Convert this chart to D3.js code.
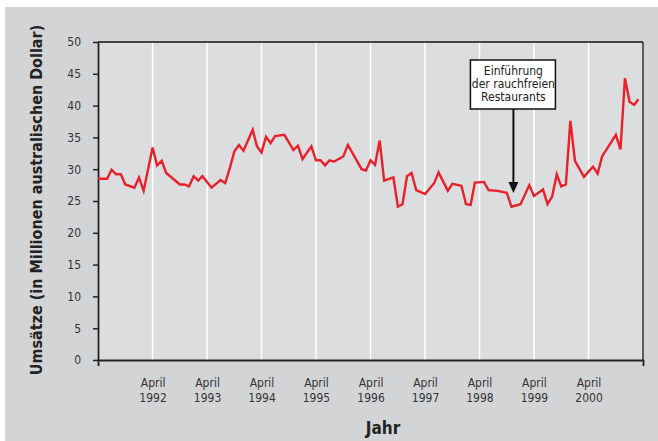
<!DOCTYPE html>
<html>
<head>
<meta charset="utf-8">
<script src="https://cdn.jsdelivr.net/npm/d3@7"></script>
<style>
  html, body { margin: 0; padding: 0; background: #fff; }
  svg text { font-family: "DejaVu Sans Condensed", "DejaVu Sans", sans-serif; font-stretch: condensed; }
</style>
</head>
<body>
<div id="chart"></div>
<script>
// Monatswerte (nur die Knickpunkte der Linie), Umsatz in Mio. AUD
const monate = [
  "1991-04","1991-06","1991-07","1991-08","1991-09","1991-10","1991-12","1992-01","1992-02","1992-04",
  "1992-05","1992-06","1992-07","1992-10","1992-11","1992-12","1993-01","1993-02","1993-03","1993-05",
  "1993-07","1993-08","1993-09","1993-10","1993-11","1993-12","1994-02","1994-03","1994-04","1994-05",
  "1994-06","1994-07","1994-09","1994-11","1994-12","1995-01","1995-03","1995-04","1995-05","1995-06",
  "1995-07","1995-08","1995-10","1995-11","1996-02","1996-03","1996-04","1996-05","1996-06","1996-07",
  "1996-09","1996-10","1996-11","1996-12","1997-01","1997-02","1997-04","1997-06","1997-07","1997-09",
  "1997-10","1997-12","1998-01","1998-02","1998-03","1998-05","1998-06","1998-08","1998-10","1998-11",
  "1999-01","1999-03","1999-04","1999-06","1999-07","1999-08","1999-09","1999-10","1999-11","1999-12",
  "2000-01","2000-03","2000-05","2000-06","2000-07","2000-10","2000-11","2000-12","2001-01","2001-02",
  "2001-03"
];
const umsatz = [
  28.5, 28.5, 29.9, 29.2, 29.2, 27.6, 27.1, 28.7, 26.6, 33.4,
  30.6, 31.3, 29.4, 27.6, 27.6, 27.3, 28.9, 28.2, 28.9, 27.1,
  28.3, 27.8, 30.2, 32.8, 33.8, 32.9, 36.2, 33.6, 32.6, 35.1,
  34.1, 35.2, 35.4, 33.0, 33.7, 31.6, 33.6, 31.4, 31.4, 30.6,
  31.4, 31.2, 32.0, 33.8, 30.0, 29.8, 31.4, 30.7, 34.5, 28.2,
  28.7, 24.1, 24.5, 28.9, 29.4, 26.7, 26.1, 27.8, 29.5, 26.6,
  27.7, 27.4, 24.5, 24.4, 27.9, 28.0, 26.7, 26.6, 26.3, 24.1,
  24.5, 27.5, 25.8, 26.8, 24.5, 25.7, 29.2, 27.3, 27.6, 37.6,
  31.3, 28.8, 30.4, 29.3, 32.0, 35.4, 33.1, 44.3, 40.6, 40.1,
  41.0
];
const aprilJahre = [1992, 1993, 1994, 1995, 1996, 1997, 1998, 1999, 2000];
const yTicks = [0, 5, 10, 15, 20, 25, 30, 35, 40, 45, 50];
const hinweis = ["Einführung", "der rauchfreien", "Restaurants"];
const hinweisMonat = "1998-11";

const width = 658, height = 441;
const plot = { left: 98, right: 643, top: 42, bottom: 360 };
const parse = d3.timeParse("%Y-%m");

const svg = d3.select("#chart").append("svg")
  .attr("width", width)
  .attr("height", height);

// Hintergrund
svg.append("rect")
  .attr("x", 5).attr("y", 7)
  .attr("width", width - 5).attr("height", height - 7)
  .attr("fill", "#d3d4d6");

svg.append("rect")
  .attr("x", plot.left).attr("y", plot.top)
  .attr("width", plot.right - plot.left).attr("height", plot.bottom - plot.top)
  .attr("fill", "#dcdddf");

const x = d3.scaleTime()
  .domain([new Date(1991, 3, 1), new Date(2001, 3, 1)])
  .range([plot.left, plot.right]);

const y = d3.scaleLinear()
  .domain([0, 50])
  .range([plot.bottom, plot.top]);

const aprils = aprilJahre.map(j => new Date(j, 3, 1));

// weiße Gitterlinien
svg.append("g")
  .selectAll("line")
  .data(aprils)
  .join("line")
  .attr("x1", d => x(d)).attr("x2", d => x(d))
  .attr("y1", plot.top).attr("y2", plot.bottom)
  .attr("stroke", "#fff")
  .attr("stroke-width", 1.5);

// Rahmen oben und rechts
svg.append("line")
  .attr("x1", plot.left).attr("x2", plot.right)
  .attr("y1", plot.top).attr("y2", plot.top)
  .attr("stroke", "#111").attr("stroke-width", 1.5);
svg.append("line")
  .attr("x1", plot.right).attr("x2", plot.right)
  .attr("y1", plot.top).attr("y2", plot.bottom)
  .attr("stroke", "#333").attr("stroke-width", 1.5);

// Achsen
const yAxis = svg.append("g")
  .attr("transform", `translate(${plot.left},0)`)
  .call(d3.axisLeft(y).tickValues(yTicks).tickSize(5).tickSizeOuter(0).tickPadding(12));

const xAxis = svg.append("g")
  .attr("transform", `translate(0,${plot.bottom})`)
  .call(d3.axisBottom(x).tickValues(aprils).tickSizeInner(0).tickSizeOuter(6).tickFormat(""));

[yAxis, xAxis].forEach(g => {
  g.select(".domain").attr("stroke", "#222").attr("stroke-width", 1.8);
  g.selectAll(".tick line").attr("stroke", "#222").attr("stroke-width", 1.5);
});
yAxis.selectAll(".tick text")
  .attr("fill", "#333")
  .style("font-size", "12px");

xAxis.selectAll(".tick").each(function (d) {
  const t = d3.select(this).append("text")
    .attr("fill", "#333")
    .attr("text-anchor", "middle")
    .style("font-size", "12px");
  t.append("tspan").attr("x", 0).attr("y", 27).text("April");
  t.append("tspan").attr("x", 0).attr("y", 42).text(d.getFullYear());
});

// Datenlinie
const line = d3.line()
  .x((d, i) => x(parse(monate[i])))
  .y(d => y(d));

svg.append("path")
  .datum(umsatz)
  .attr("fill", "none")
  .attr("stroke", "#e8202a")
  .attr("stroke-width", 2.4)
  .attr("d", line);

// Hinweis mit Pfeil
const ax = x(parse(hinweisMonat)) + 2;
const box = svg.append("g");
box.append("rect")
  .attr("x", ax - 43).attr("y", 60)
  .attr("width", 85).attr("height", 49)
  .attr("fill", "#fff")
  .attr("stroke", "#111")
  .attr("stroke-width", 1.5);
box.append("text")
  .attr("text-anchor", "middle")
  .attr("fill", "#222")
  .style("font-size", "12px")
  .selectAll("tspan")
  .data(hinweis)
  .join("tspan")
  .attr("x", ax)
  .attr("y", (d, i) => 75 + i * 13)
  .text(d => d);

box.append("line")
  .attr("x1", ax).attr("x2", ax)
  .attr("y1", 109).attr("y2", 183)
  .attr("stroke", "#111").attr("stroke-width", 2);
box.append("path")
  .attr("d", `M${ax - 5},182 L${ax + 5},182 L${ax},193 Z`)
  .attr("fill", "#111");

// Achsentitel
svg.append("text")
  .attr("transform", `translate(42,200) rotate(-90)`)
  .attr("text-anchor", "middle")
  .attr("fill", "#222")
  .style("font-size", "16px")
  .style("font-weight", "bold")
  .text("Umsätze (in Millionen australischen Dollar)");

svg.append("text")
  .attr("x", 383).attr("y", 434)
  .attr("text-anchor", "middle")
  .attr("fill", "#222")
  .style("font-size", "17px")
  .style("font-weight", "bold")
  .text("Jahr");
</script>
</body>
</html>
